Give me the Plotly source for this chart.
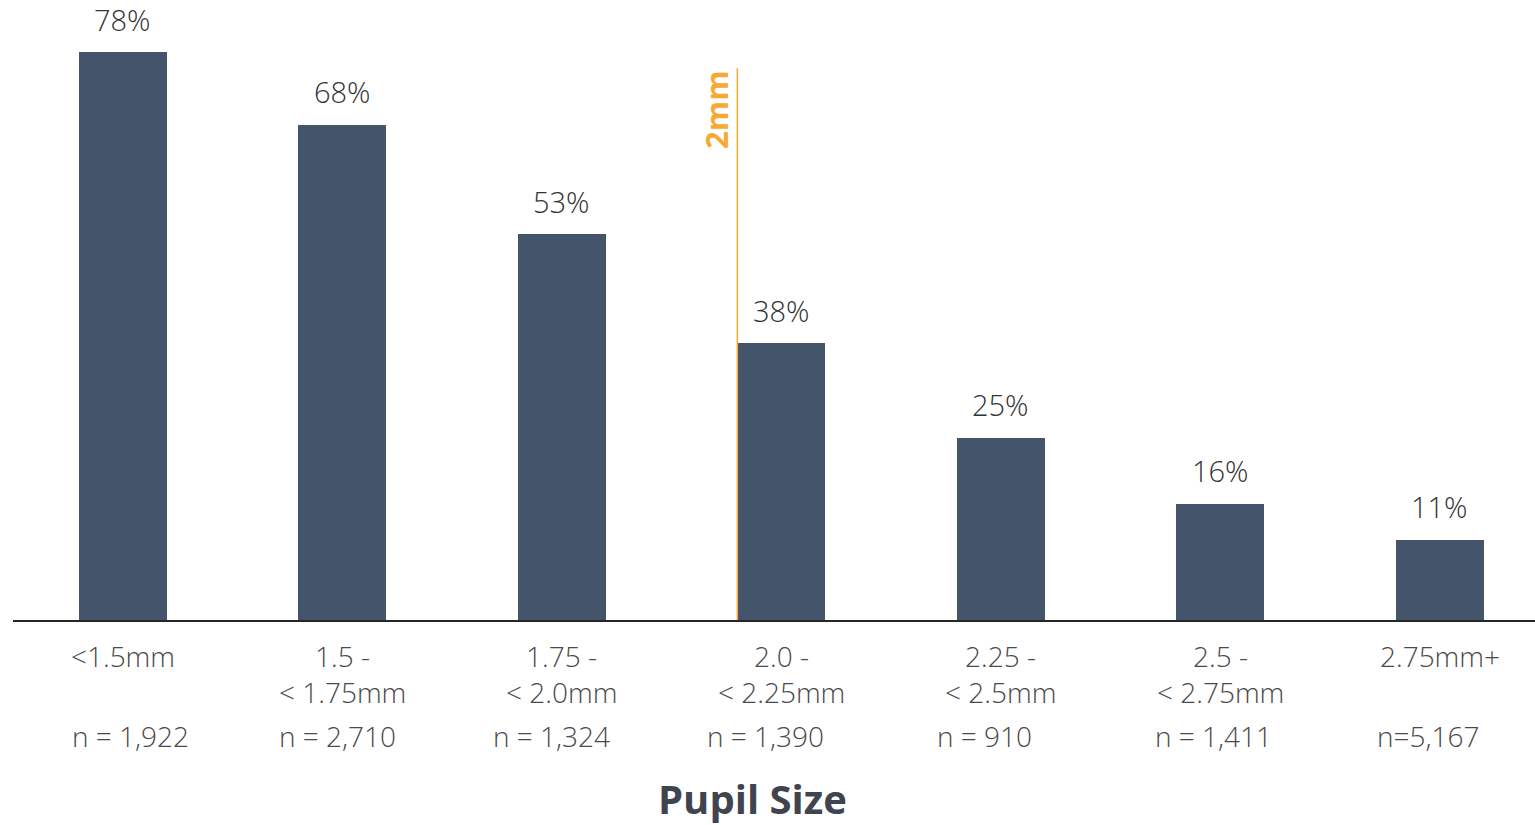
import plotly.graph_objects as go

# Pupil-size bins, share of each bin, and sample sizes
categories = ["<1.5mm", "1.5 -<br>< 1.75mm", "1.75 -<br>< 2.0mm", "2.0 -<br>< 2.25mm",
              "2.25 -<br>< 2.5mm", "2.5 -<br>< 2.75mm", "2.75mm+"]
percent = [78, 68, 53, 38, 25, 16, 11]
n_labels = ["n = 1,922", "n = 2,710", "n = 1,324", "n = 1,390", "n = 910", "n = 1,411", "n=5,167"]

threshold_label = "2mm"
threshold_bin = 3          # bin that starts at 2.0mm
threshold_top = 75.8       # height of the marker line (in % units)

BAR_COLOR = "#44546A"
ORANGE = "#F7A934"
TEXT_DARK = "#333333"
TEXT_GRAY = "#4a4a4a"
FONT = "Open Sans"
BAR_W = 0.4
# horizontal nudges (px) for the sample-size text boxes
N_NUDGE = [8, -5, -10, -16, -16, -7, -12]

fig = go.Figure()
fig.add_trace(go.Bar(
    x=list(range(len(categories))), y=percent, width=BAR_W,
    marker=dict(color=BAR_COLOR, line=dict(width=0)),
    hoverinfo="skip", showlegend=False,
))

ann = []
for i, (p, cat, n) in enumerate(zip(percent, categories, n_labels)):
    # value above bar
    ann.append(dict(x=i, y=p, xref="x", yref="y", text=f"{p}%", showarrow=False,
                    yanchor="middle", yshift=33,
                    font=dict(family=FONT, size=29, color=TEXT_DARK, weight=300)))
    # category label lines
    for k, line in enumerate(cat.split("<br>")):
        ann.append(dict(x=i, y=0, xref="x", yref="paper", text=line, showarrow=False,
                        yanchor="middle", yshift=-36 - 36 * k,
                        font=dict(family=FONT, size=28, color=TEXT_GRAY, weight=300)))
    # sample size
    ann.append(dict(x=i, y=0, xref="x", yref="paper", text=n, showarrow=False,
                    yanchor="middle", yshift=-116, xshift=N_NUDGE[i],
                    font=dict(family=FONT, size=28, color=TEXT_GRAY, weight=300)))

line_x = threshold_bin - BAR_W / 2
ann.append(dict(x=line_x, y=threshold_top, xref="x", yref="y", text=f"<b>{threshold_label}</b>",
                showarrow=False, textangle=-90, xanchor="center", yanchor="top",
                xshift=-22, yshift=0,
                font=dict(family=FONT, size=31, color=ORANGE)))

ann.append(dict(x=0.4862, y=0, xref="paper", yref="paper", text="<b>Pupil Size</b>",
                showarrow=False, yanchor="middle", yshift=-178, borderpad=0,
                font=dict(family=FONT, size=40, color="#3F444F")))

fig.add_shape(type="line", xref="x", yref="y", x0=line_x, x1=line_x, y0=0, y1=threshold_top,
              line=dict(color=ORANGE, width=1.5))

fig.update_layout(
    width=1535, height=825,
    margin=dict(l=13, r=0, t=0, b=205),
    plot_bgcolor="white", paper_bgcolor="white",
    annotations=ann,
    bargap=0,
    xaxis=dict(range=[-0.5, 6.434], showticklabels=False, showgrid=False, zeroline=False,
               showline=True, linecolor="#262626", linewidth=2, ticks=""),
    yaxis=dict(range=[0, 85.16], visible=False, showgrid=False, zeroline=False),
)

fig.write_html("out.html")
